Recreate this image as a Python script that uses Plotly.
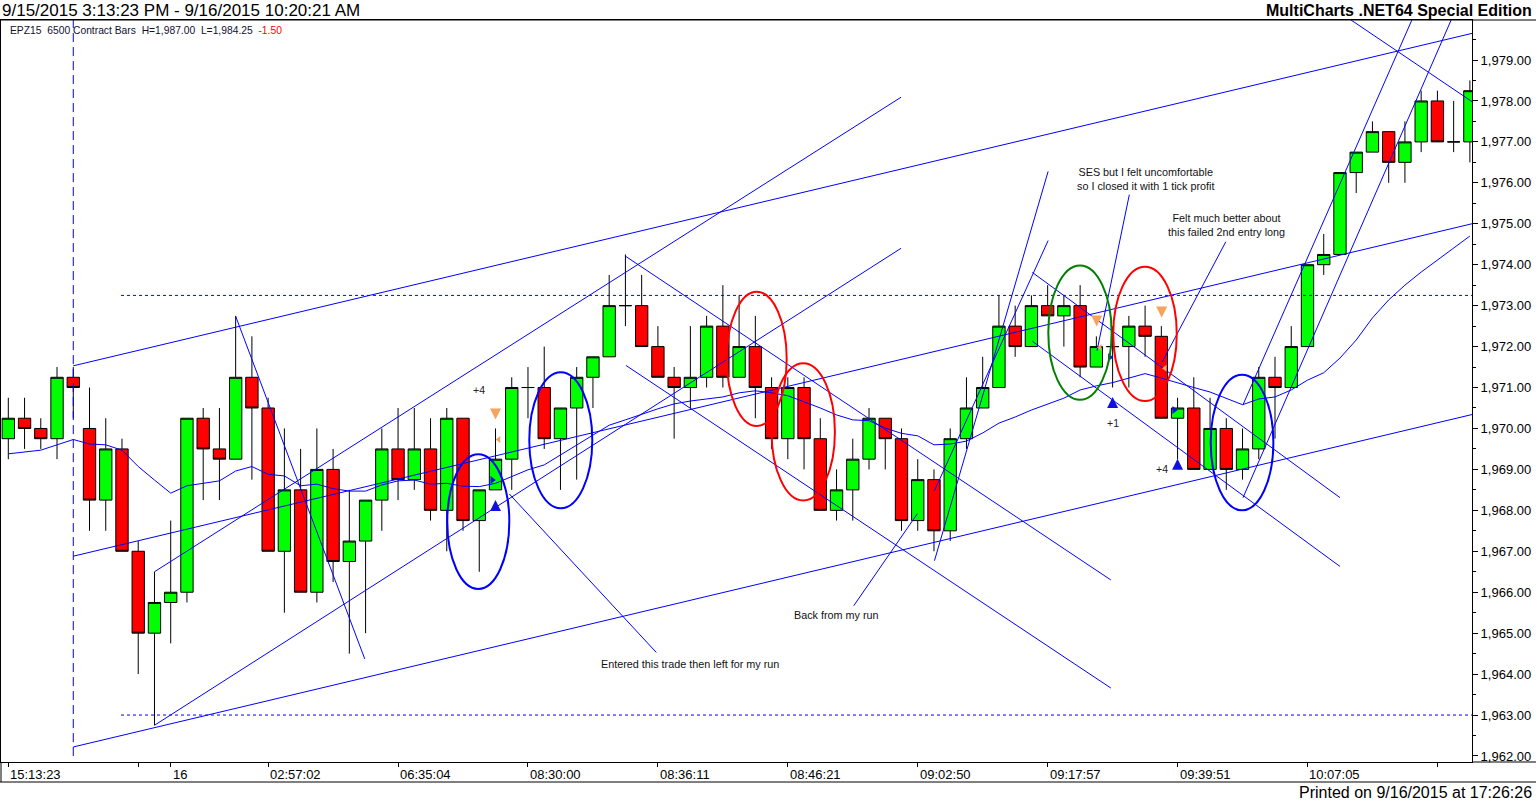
import plotly.graph_objects as go

# ---------------- data ----------------
bar_index = list(range(91))
opens = [1969.75, 1970.25, 1970.0, 1969.75, 1971.25, 1970.0, 1968.25, 1969.5, 1967.0, 1965.0,
         1965.75, 1966.0, 1970.25, 1969.5, 1969.25, 1971.25, 1970.5, 1967.0, 1968.5, 1966.0,
         1969.0, 1966.75, 1967.25, 1968.25, 1969.5, 1968.75, 1969.5, 1968.0, 1970.25, 1967.75,
         1968.5, 1969.25, 1971.0, 1971.0, 1969.75, 1970.5, 1971.25, 1971.75, 1973.0, 1973.0,
         1972.0, 1971.25, 1971.0, 1971.25, 1972.5, 1971.25, 1972.0, 1971.0, 1969.75, 1971.0,
         1969.75, 1968.0, 1968.5, 1969.25, 1970.25, 1969.75, 1967.75, 1968.75, 1967.5, 1969.75,
         1970.5, 1971.0, 1972.5, 1972.0, 1973.0, 1972.75, 1973.0, 1971.5, 1972.0, 1972.0,
         1972.5, 1972.25, 1970.25, 1970.5, 1969.0, 1970.0, 1969.0, 1969.5, 1971.25, 1971.0,
         1972.0, 1974.0, 1974.25, 1976.25, 1976.75, 1977.25, 1976.5, 1977.0, 1978.0, 1977.0,
         1977.0]
highs = [1970.75, 1970.75, 1970.25, 1971.5, 1971.5, 1971.0, 1970.25, 1969.75, 1967.25, 1966.5,
         1967.75, 1970.25, 1970.5, 1970.5, 1972.75, 1972.25, 1970.75, 1970.0, 1969.5, 1970.0,
         1969.5, 1968.5, 1968.25, 1970.0, 1970.5, 1970.5, 1970.25, 1970.5, 1970.25, 1968.5,
         1970.0, 1971.25, 1971.5, 1972.0, 1970.5, 1971.5, 1971.75, 1973.75, 1974.25, 1973.75,
         1972.5, 1971.5, 1972.5, 1972.75, 1973.5, 1973.25, 1972.75, 1971.25, 1971.25, 1971.25,
         1970.25, 1969.0, 1969.75, 1970.5, 1970.25, 1970.0, 1969.25, 1969.0, 1970.0, 1971.25,
         1971.75, 1973.25, 1973.0, 1973.25, 1973.5, 1973.25, 1973.5, 1972.25, 1972.5, 1972.75,
         1973.0, 1972.5, 1970.75, 1971.25, 1970.75, 1970.25, 1970.0, 1971.5, 1971.75, 1972.5,
         1974.0, 1974.75, 1976.25, 1976.75, 1977.5, 1977.25, 1977.5, 1978.25, 1978.25, 1978.0,
         1978.5]
lows = [1969.25, 1969.5, 1969.5, 1969.25, 1970.25, 1967.5, 1967.5, 1967.0, 1964.0, 1962.75,
        1964.75, 1965.75, 1968.25, 1968.25, 1969.25, 1968.75, 1967.0, 1965.5, 1966.0, 1965.75,
        1966.25, 1964.5, 1965.0, 1967.5, 1968.25, 1968.5, 1967.75, 1967.0, 1967.5, 1966.5,
        1968.5, 1968.5, 1970.25, 1969.5, 1968.5, 1968.75, 1970.5, 1971.75, 1972.5, 1972.0,
        1971.25, 1969.75, 1970.5, 1971.0, 1971.0, 1971.25, 1970.25, 1969.5, 1969.25, 1969.0,
        1968.0, 1967.75, 1967.75, 1969.0, 1969.0, 1967.5, 1967.5, 1967.0, 1967.25, 1969.5,
        1970.5, 1971.0, 1971.75, 1972.0, 1972.75, 1972.0, 1971.25, 1971.5, 1971.0, 1971.0,
        1971.75, 1970.25, 1969.25, 1969.0, 1969.0, 1968.5, 1968.75, 1969.25, 1969.75, 1971.0,
        1972.0, 1973.75, 1974.25, 1975.75, 1976.75, 1976.0, 1976.0, 1976.75, 1977.0, 1976.75,
        1976.5]
closes = [1970.25, 1970.0, 1969.75, 1971.25, 1971.0, 1968.25, 1969.5, 1967.0, 1965.0, 1965.75,
          1966.0, 1970.25, 1969.5, 1969.25, 1971.25, 1970.5, 1967.0, 1968.5, 1966.0, 1969.0,
          1966.75, 1967.25, 1968.25, 1969.5, 1968.75, 1969.5, 1968.0, 1970.25, 1967.75, 1968.5,
          1969.25, 1971.0, 1971.0, 1969.75, 1970.5, 1971.25, 1971.75, 1973.0, 1973.0, 1972.0,
          1971.25, 1971.0, 1971.25, 1972.5, 1971.25, 1972.0, 1971.0, 1969.75, 1971.0, 1969.75,
          1968.0, 1968.5, 1969.25, 1970.25, 1969.75, 1967.75, 1968.75, 1967.5, 1969.75, 1970.5,
          1971.0, 1972.5, 1972.0, 1973.0, 1972.75, 1973.0, 1971.5, 1972.0, 1972.0, 1972.5,
          1972.25, 1970.25, 1970.5, 1969.0, 1970.0, 1969.0, 1969.5, 1971.25, 1971.0, 1972.0,
          1974.0, 1974.25, 1976.25, 1976.75, 1977.25, 1976.5, 1977.0, 1978.0, 1977.0, 1977.0,
          1978.25]
moving_avg = [1969.38, 1969.43, 1969.47, 1969.60, 1969.73, 1969.62, 1969.60, 1969.47, 1969.07, 1968.74,
              1968.42, 1968.60, 1968.66, 1968.72, 1968.96, 1969.07, 1968.88, 1968.84, 1968.60, 1968.64,
              1968.53, 1968.47, 1968.47, 1968.62, 1968.72, 1968.74, 1968.64, 1968.66, 1968.59, 1968.58,
              1968.66, 1968.82, 1968.99, 1969.11, 1969.35, 1969.60, 1969.82, 1970.08, 1970.21, 1970.35,
              1970.48, 1970.60, 1970.67, 1970.72, 1970.77, 1970.87, 1970.92, 1970.87, 1970.80, 1970.65,
              1970.50, 1970.33, 1970.21, 1970.19, 1970.01, 1969.88, 1969.82, 1969.60, 1969.62, 1969.69,
              1969.89, 1970.13, 1970.28, 1970.45, 1970.59, 1970.74, 1970.94, 1971.04, 1971.12, 1971.23,
              1971.34, 1971.23, 1971.11, 1971.00, 1970.89, 1970.74, 1970.58, 1970.72, 1970.77, 1970.94,
              1971.18, 1971.36, 1971.72, 1972.16, 1972.70, 1973.14, 1973.50, 1973.82, 1974.12, 1974.41,
              1974.70]

tick_positions = [0, 8, 10, 16, 24, 32, 40, 48, 56, 64, 72, 80, 88]
tick_labels = ["15:13:23", "", "16", "02:57:02", "06:35:04", "08:30:00", "08:36:11",
               "08:46:21", "09:02:50", "09:17:57", "09:39:51", "10:07:05", ""]
price_ticks = list(range(1962, 1980))

# trendlines (bar index, price)
trend_x0 = [4, 4, 4, 9, 9, 14.0, 38.03, 38.03, 63.06, 63.06, 57.03, 57.03, 76.03, 76.03, 82.67]
trend_y0 = [1971.53, 1966.88, 1962.22, 1966.5, 1962.75, 1972.74, 1974.2, 1971.54, 1973.81, 1972.13,
            1966.77, 1968.48, 1970.58, 1968.31, 1979.98]
trend_x1 = [90.13, 90.13, 90.13, 54.97, 54.97, 21.95, 67.89, 67.89, 82.0, 82.0, 64.03, 64.03,
            86.43, 88.85, 90.14]
trend_y1 = [1979.65, 1975.0, 1970.34, 1978.09, 1974.4, 1964.37, 1966.3, 1963.66, 1968.31, 1966.63,
            1976.28, 1974.59, 1979.98, 1979.98, 1977.98]

# note leader lines
leader_x0 = [30.85, 55.98, 69.03, 74.97]
leader_y0 = [1968.40, 1967.92, 1975.71, 1974.56]
leader_x1 = [39.9, 52.06, 67.04, 71.05]
leader_y1 = [1964.53, 1965.67, 1971.90, 1971.62]

# dotted levels
level_prices = [1973.25, 1963.0]
level_start = 6.94
level_end = 90.13
session_bar = 4

# ellipses
ell_x0 = [27.03, 32.08, 44.24, 47.0, 64.04, 68.04, 74.04]
ell_x1 = [30.85, 35.96, 47.93, 50.9, 67.94, 71.95, 77.9]
ell_y0 = [1966.08, 1968.05, 1970.06, 1968.24, 1970.70, 1970.67, 1968.0]
ell_y1 = [1969.37, 1971.37, 1973.34, 1971.59, 1973.98, 1973.95, 1971.31]
ell_colors = ["#0000FF", "#0000FF", "#FF0000", "#FF0000", "#008000", "#FF0000", "#0000FF"]

# trade markers
exit_arrow_x = [30, 67.02, 71.02]
exit_arrow_y = [1970.22, 1972.49, 1972.71]
exit_tri_x = [30.2, 67.22, 71.23]
exit_tri_y = [1969.73, 1971.98, 1971.47]
entry_tri_x = [29.8, 67.83, 71.79]
entry_tri_y = [1968.74, 1971.74, 1970.45]
entry_arrow_x = [30, 68, 72]
entry_arrow_y = [1968.25, 1970.77, 1969.26]
profit_x = [29.0, 68.0, 71.06]
profit_y = [1970.95, 1970.13, 1969.0]
profit_text = ["+4", "+1", "+4"]

note_x = [41.98, 50.97, 70.0, 75.04]
note_y = [1964.25, 1965.44, 1976.1, 1974.98]
note_text = ["Entered this trade then left for my run", "Back from my run",
             "SES but I felt uncomfortable<br>so I closed it with 1 tick profit",
             "Felt much better about<br>this failed 2nd entry long"]

# ---------------- figure ----------------
FONT = "Arial, Liberation Sans, sans-serif"
BLUE = "#0000FF"

def segments(x0, y0, x1, y1):
    xs, ys = [], []
    for a, b, c, d in zip(x0, y0, x1, y1):
        xs += [a, c, None]
        ys += [b, d, None]
    return xs, ys

fig = go.Figure()

fig.add_trace(go.Candlestick(
    x=bar_index, open=opens, high=highs, low=lows, close=closes,
    increasing=dict(fillcolor="#00FF00", line=dict(color="black", width=1)),
    decreasing=dict(fillcolor="#FF0000", line=dict(color="black", width=1)),
    whiskerwidth=0, showlegend=False, hoverinfo="skip"))

fig.add_trace(go.Scatter(x=bar_index, y=moving_avg, mode="lines",
                         line=dict(color=BLUE, width=1), showlegend=False, hoverinfo="skip"))

tx, ty = segments(trend_x0, trend_y0, trend_x1, trend_y1)
fig.add_trace(go.Scatter(x=tx, y=ty, mode="lines", line=dict(color=BLUE, width=1),
                         showlegend=False, hoverinfo="skip"))
lx, ly = segments(leader_x0, leader_y0, leader_x1, leader_y1)
fig.add_trace(go.Scatter(x=lx, y=ly, mode="lines", line=dict(color=BLUE, width=1),
                         showlegend=False, hoverinfo="skip"))

for p in level_prices:
    fig.add_trace(go.Scatter(x=[level_start, level_end], y=[p, p], mode="lines",
                             line=dict(color=BLUE, width=1, dash="3px,3px"),
                             showlegend=False, hoverinfo="skip"))

fig.add_shape(type="line", xref="x", yref="paper", x0=session_bar, x1=session_bar,
              y0=0.008, y1=1, line=dict(color=BLUE, width=1, dash="9px,5px"))

for a, b, c, d, col in zip(ell_x0, ell_x1, ell_y0, ell_y1, ell_colors):
    fig.add_shape(type="circle", xref="x", yref="y", x0=a, x1=b, y0=c, y1=d,
                  line=dict(color=col, width=2))

fig.add_trace(go.Scatter(x=exit_arrow_x, y=exit_arrow_y, mode="markers",
                         marker=dict(symbol="arrow-down", size=11, color="#F7A35C"),
                         showlegend=False, hoverinfo="skip"))
fig.add_trace(go.Scatter(x=exit_tri_x, y=exit_tri_y, mode="markers",
                         marker=dict(symbol="triangle-left", size=6, color="#F7A35C"),
                         showlegend=False, hoverinfo="skip"))
fig.add_trace(go.Scatter(x=entry_tri_x, y=entry_tri_y, mode="markers",
                         marker=dict(symbol="triangle-right", size=7, color="#1010E0"),
                         showlegend=False, hoverinfo="skip"))
fig.add_trace(go.Scatter(x=entry_arrow_x, y=entry_arrow_y, mode="markers",
                         marker=dict(symbol="arrow-up", size=11, color="#1010E0"),
                         showlegend=False, hoverinfo="skip"))

annotations = []
for x, y, t in zip(profit_x, profit_y, profit_text):
    annotations.append(dict(x=x, y=y, xref="x", yref="y", text=t, showarrow=False,
                            font=dict(family=FONT, size=10.5, color="#222222")))
for x, y, t in zip(note_x, note_y, note_text):
    annotations.append(dict(x=x, y=y, xref="x", yref="y", text=t, showarrow=False,
                            font=dict(family=FONT, size=10.8, color="#111111")))

# x tick labels, left-aligned after each tick
for pos, lab in zip(tick_positions, tick_labels):
    if lab:
        annotations.append(dict(x=pos, y=-0.0175, xref="x", yref="paper", text=lab,
                                showarrow=False, xanchor="left", yanchor="middle", xshift=0,
                                font=dict(family=FONT, size=13, color="black")))

PW = 1471.0
annotations += [
    dict(x=-1 / PW, y=(762 - 10) / 742, xref="paper", yref="paper",
         text="9/15/2015 3:13:23 PM - 9/16/2015 10:20:21 AM", showarrow=False,
         xanchor="left", yanchor="middle", font=dict(family=FONT, size=17, color="black")),
    dict(x=(1534 - 1) / PW, y=(762 - 10) / 742, xref="paper", yref="paper",
         text="<b>MultiCharts .NET64 Special Edition</b>", showarrow=False,
         xanchor="right", yanchor="middle", font=dict(family=FONT, size=16, color="black")),
    dict(x=(8 - 1) / PW, y=(762 - 30) / 742, xref="paper", yref="paper",
         text="EPZ15&nbsp;&nbsp;6500 Contract Bars&nbsp;&nbsp;H=1,987.00&nbsp;&nbsp;L=1,984.25&nbsp;&nbsp;"
              "<span style='color:#FF0000'>-1.50</span>",
         showarrow=False, xanchor="left", yanchor="middle",
         font=dict(family=FONT, size=10.3, color="#101030")),
    dict(x=(1534 - 1) / PW, y=(762 - 792) / 742, xref="paper", yref="paper",
         text="Printed on 9/16/2015 at 17:26:26", showarrow=False,
         xanchor="right", yanchor="middle", font=dict(family=FONT, size=16, color="black")),
]

frame = dict(color="black", width=1)
right_edge = 1535 / PW
strip_bottom = (762 - 782) / 742
fig.add_shape(type="line", xref="paper", yref="paper", x0=-1 / PW, x1=right_edge, y0=1, y1=1, line=frame)
fig.add_shape(type="line", xref="paper", yref="paper", x0=1, x1=right_edge, y0=0, y1=0, line=frame)
fig.add_shape(type="line", xref="paper", yref="paper", x0=-1 / PW, x1=right_edge,
              y0=strip_bottom, y1=strip_bottom, line=frame)
fig.add_shape(type="line", xref="paper", yref="paper", x0=0, x1=0, y0=strip_bottom, y1=0, line=frame)

fig.update_layout(
    width=1536, height=801,
    margin=dict(l=1, r=64, t=20, b=39),
    paper_bgcolor="white", plot_bgcolor="white",
    boxgap=0.24, boxgroupgap=0.0,
    showlegend=False, hovermode=False,
    annotations=annotations,
    xaxis=dict(range=[-0.45, 90.13], showgrid=False, zeroline=False,
               showline=True, linecolor="black", linewidth=1, mirror=True,
               ticks="outside", ticklen=4, tickcolor="black",
               tickmode="array", tickvals=tick_positions, showticklabels=False,
               rangeslider=dict(visible=False), fixedrange=True),
    yaxis=dict(range=[1961.853, 1979.977], side="right", showgrid=False, zeroline=False,
               showline=True, linecolor="black", linewidth=1, mirror=True,
               ticks="outside", ticklen=5, tickcolor="black",
               tickmode="array", tickvals=price_ticks,
               ticktext=[f"{v:,.2f}" for v in price_ticks],
               tickfont=dict(family=FONT, size=13, color="black"),
               minor=dict(ticks="outside", ticklen=3, tickcolor="black", dtick=0.5, tick0=0.5),
               fixedrange=True),
)

fig.write_html("out.html", config={"displayModeBar": False},
               post_script="document.body.style.margin='0';document.body.style.padding='0';"
                           "document.body.style.overflow='hidden';")
